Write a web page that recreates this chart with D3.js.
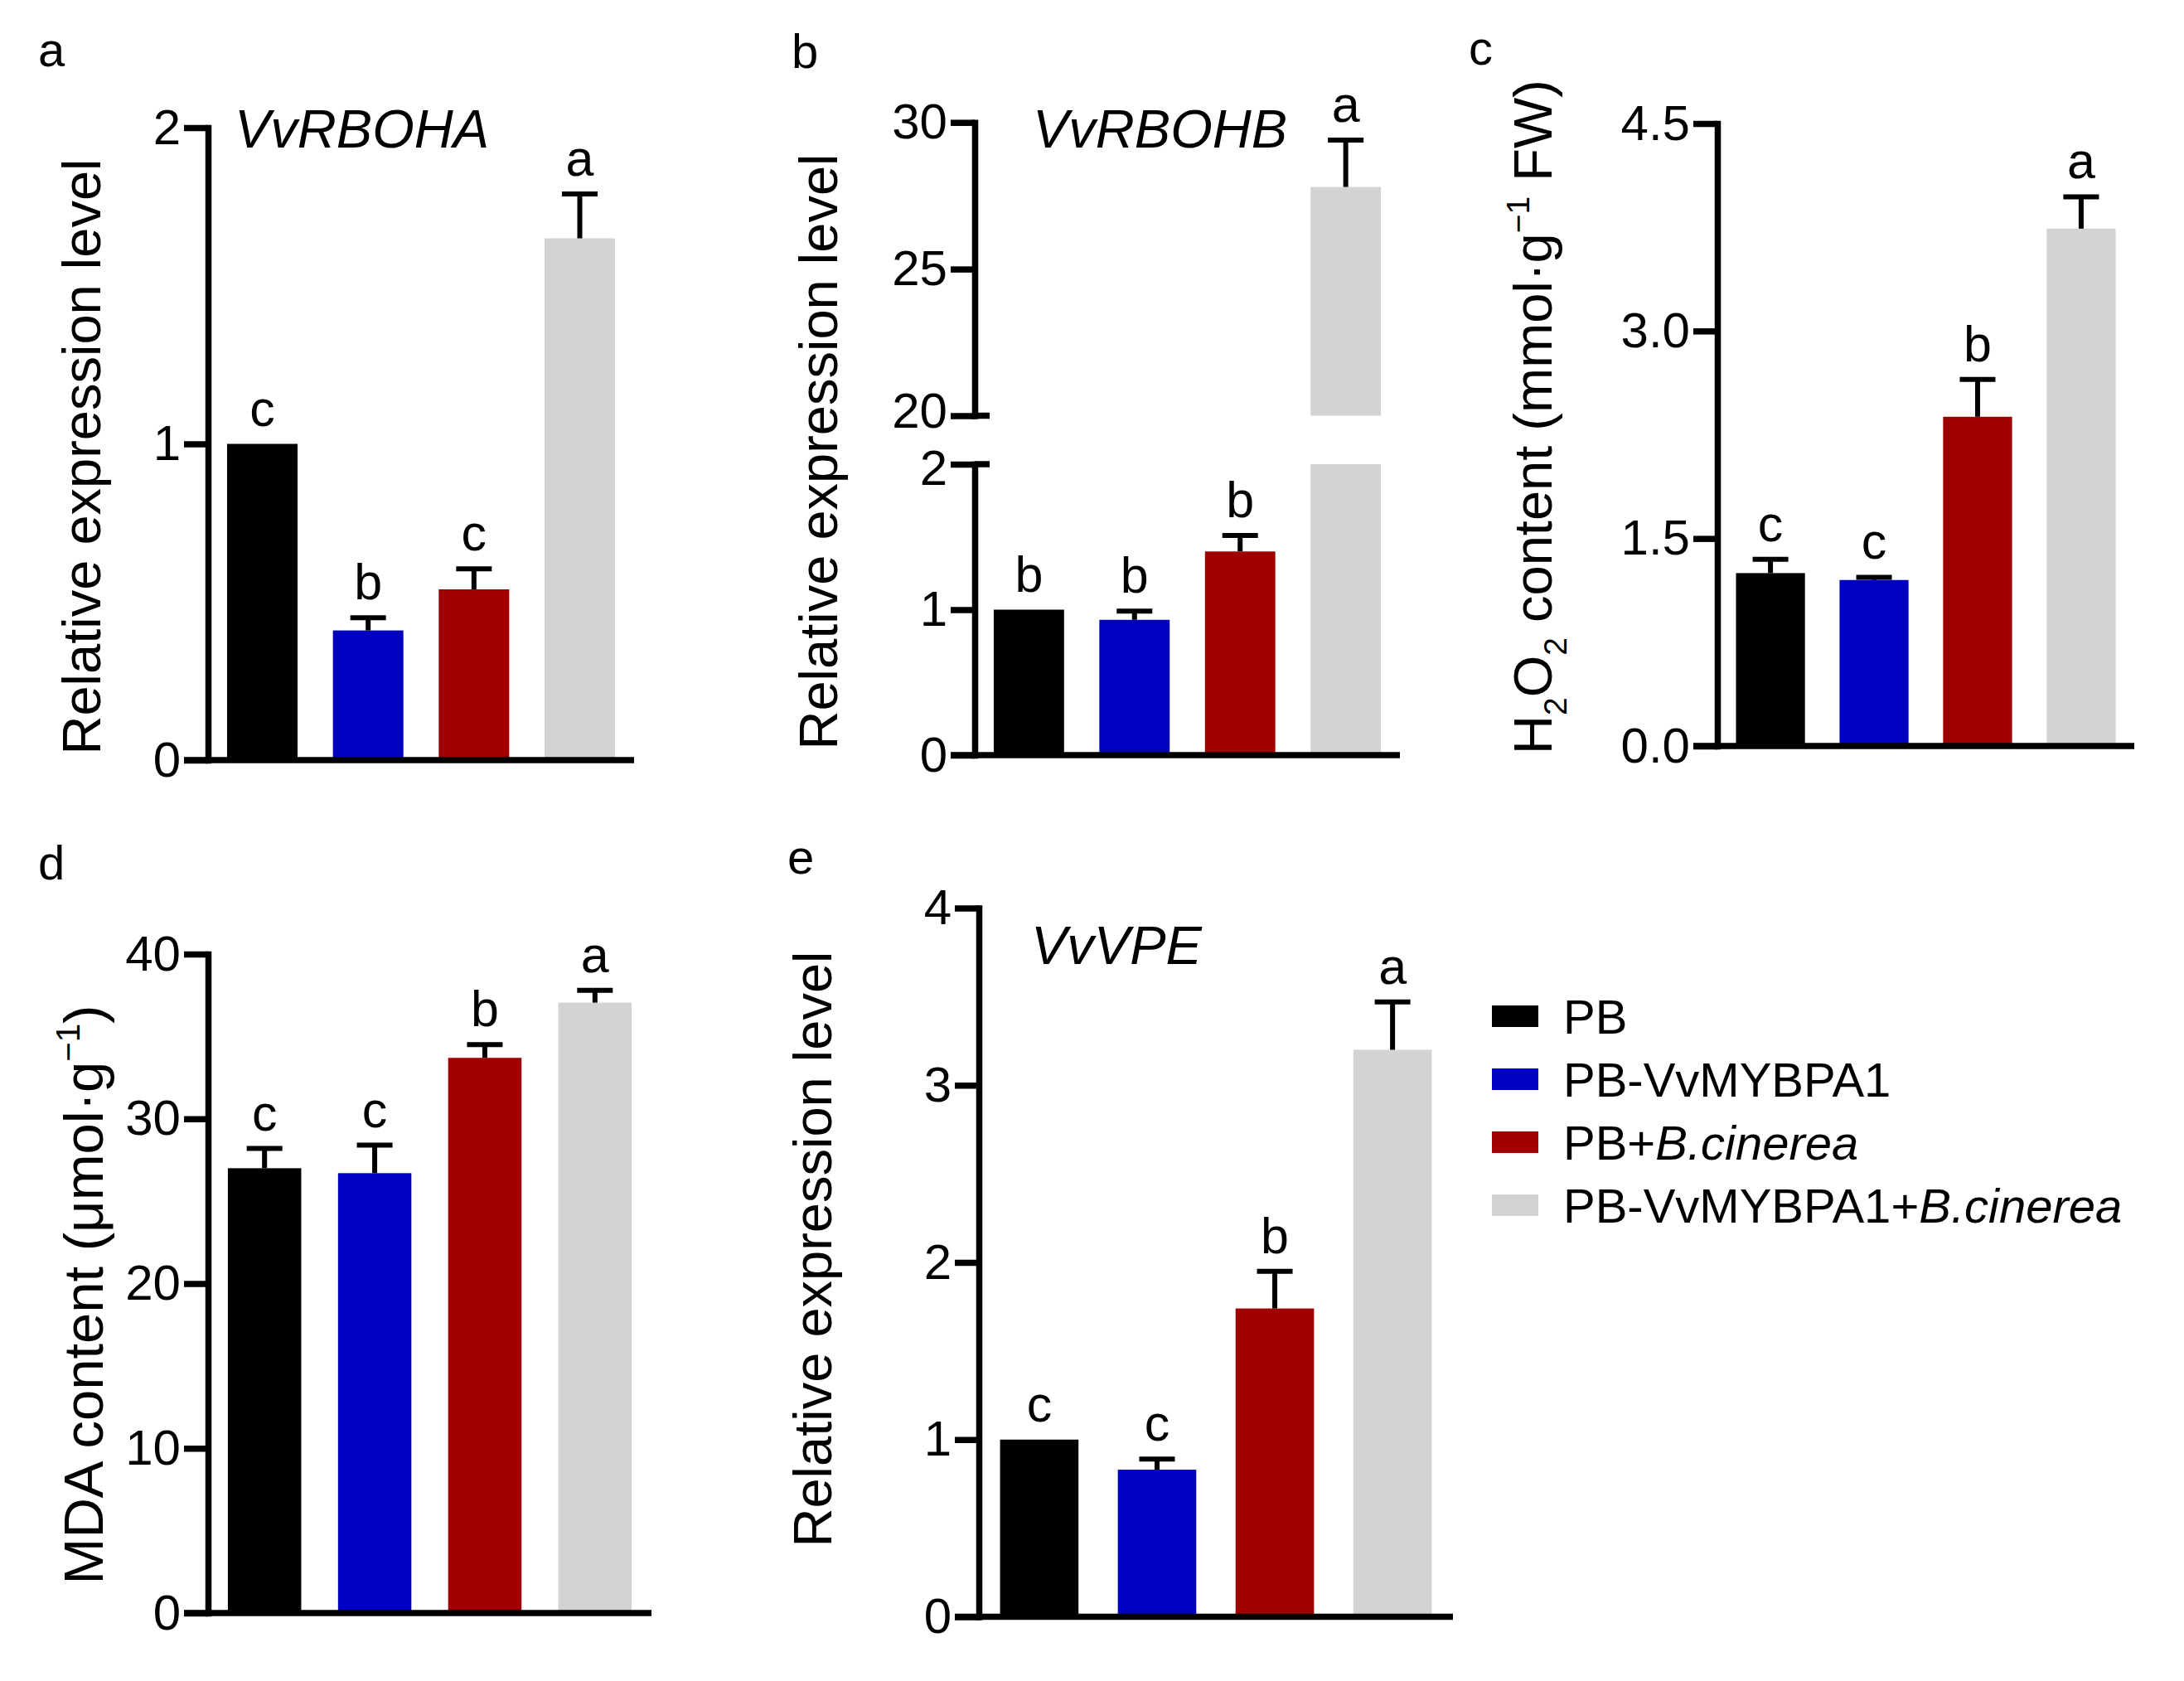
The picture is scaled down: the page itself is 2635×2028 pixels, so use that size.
<!DOCTYPE html>
<html lang="en">
<head>
  <meta charset="UTF-8">
  <title>ROS markers</title>
  <script src="https://cdnjs.cloudflare.com/ajax/libs/d3/7.8.5/d3.min.js"></script>
  <style>
    body { margin: 0; background: #fff; }
    svg { display: block; font-family: "Liberation Sans", Arial, sans-serif; }
    .axis path, .axis line { stroke: #000; stroke-width: 7.5; }
    .axis .domain { stroke-linecap: square; }
    .axis text { font-size: 60px; fill: #000; }
  </style>
</head>
<body>
  <script>
    // groups + colours
    const groups = ["PB", "PB-VvMYBPA1", "PB+B.cinerea", "PB-VvMYBPA1+B.cinerea"];
    const colors = ["#000000", "#0000C0", "#A00000", "#D3D3D3"];

    // a: VvRBOHA
    const rbohaMean = [1.0, 0.41, 0.54, 1.65];
    const rbohaErr = [0, 0.04, 0.065, 0.14];
    const rbohaLetters = ["c", "b", "c", "a"];
    const rbohaTicks = [0, 1, 2];

    // b: VvRBOHB (broken axis)
    const rbohbMean = [1.0, 0.93, 1.40, 27.8];
    const rbohbErr = [0, 0.06, 0.11, 1.6];
    const rbohbLetters = ["b", "b", "b", "a"];
    const rbohbLowTicks = [0, 1, 2];
    const rbohbHighTicks = [20, 25, 30];

    // c: H2O2 content
    const h2o2Mean = [1.25, 1.20, 2.38, 3.74];
    const h2o2Err = [0.10, 0.02, 0.27, 0.23];
    const h2o2Letters = ["c", "c", "b", "a"];
    const h2o2Ticks = [0, 1.5, 3.0, 4.5];

    // d: MDA content
    const mdaMean = [27.0, 26.7, 33.7, 37.05];
    const mdaErr = [1.2, 1.7, 0.8, 0.75];
    const mdaLetters = ["c", "c", "b", "a"];
    const mdaTicks = [0, 10, 20, 30, 40];

    // e: VvVPE
    const vpeMean = [1.0, 0.83, 1.74, 3.20];
    const vpeErr = [0, 0.06, 0.21, 0.27];
    const vpeLetters = ["c", "c", "b", "a"];
    const vpeTicks = [0, 1, 2, 3, 4];

    const width = 2635, height = 2028;
    const tickLen = 29;

    const svg = d3.select("body").append("svg")
      .attr("width", width)
      .attr("height", height);

    //rotated y title, parts can be sub / sup
    function yTitle(x, y, parts, fs) {
      fs = fs || 65;
      const t = svg.append("text")
        .attr("transform", `translate(${x},${y}) rotate(-90)`)
        .attr("text-anchor", "middle")
        .attr("font-size", fs);
      let shift = 0;
      parts.forEach(p => {
        let s = 0;
        if (p.sub) s = 0.28 * fs;
        if (p.sup) s = -0.42 * fs;
        t.append("tspan")
          .attr("dy", s - shift)
          .attr("font-size", (p.sub || p.sup) ? fs * 0.6 : fs)
          .text(p.t);
        shift = s;
      });
    }

    function plainText(x, y, txt, size, italic) {
      svg.append("text")
        .attr("x", x).attr("y", y)
        .attr("font-size", size)
        .attr("font-style", italic ? "italic" : null)
        .text(txt);
    }

    function xScaleFor(axisX, w) {
      return d3.scaleBand()
        .domain(groups)
        .range([axisX, axisX + w])
        .paddingInner(0.334)
        .paddingOuter(0.18);
    }

    function drawBars(x, y, means, errs, letters, y0) {
      const g = svg.append("g");
      groups.forEach((grp, i) => {
        g.append("rect")
          .attr("x", x(grp))
          .attr("width", x.bandwidth())
          .attr("y", y(means[i]))
          .attr("height", y0 - y(means[i]))
          .attr("fill", colors[i]);
        addErrAndLetter(g, x, y, grp, means[i], errs[i], letters[i]);
      });
    }

    function addErrAndLetter(g, x, y, grp, m, e, letter) {
      const cx = x(grp) + x.bandwidth() / 2;
      if (e > 0) {
        g.append("line")
          .attr("x1", cx).attr("x2", cx)
          .attr("y1", y(m)).attr("y2", y(m + e))
          .attr("stroke", "#000").attr("stroke-width", 6);
        g.append("line")
          .attr("x1", cx - 21.5).attr("x2", cx + 21.5)
          .attr("y1", y(m + e)).attr("y2", y(m + e))
          .attr("stroke", "#000").attr("stroke-width", 6);
      }
      g.append("text")
        .attr("x", cx)
        .attr("y", y(m + e) - 22)
        .attr("text-anchor", "middle")
        .attr("font-size", 61)
        .text(letter);
    }

    function leftAxis(axisX, y, ticks, fmt) {
      return svg.append("g")
        .attr("class", "axis")
        .attr("transform", `translate(${axisX},0)`)
        .call(d3.axisLeft(y).tickValues(ticks).tickSize(tickLen).tickSizeOuter(0)
          .tickPadding(4).tickFormat(fmt));
    }

    function baseLine(axisX, w, y0) {
      svg.append("line")
        .attr("x1", axisX - tickLen).attr("x2", axisX + w)
        .attr("y1", y0).attr("y2", y0)
        .attr("stroke", "#000").attr("stroke-width", 7.5);
    }

    function simplePanel(o) {
      const x = xScaleFor(o.axisX, o.w);
      const y = d3.scaleLinear().domain(o.domain).range([o.y0, o.y1]);
      drawBars(x, y, o.means, o.errs, o.letters, o.y0);
      leftAxis(o.axisX, y, o.ticks, o.fmt);
      baseLine(o.axisX, o.w, o.y0);
    }

    // panel a
    simplePanel({ axisX: 251, w: 514, y0: 917, y1: 154, domain: [0, 2],
      means: rbohaMean, errs: rbohaErr, letters: rbohaLetters, ticks: rbohaTicks, fmt: d3.format("d") });
    plainText(283, 178, "VvRBOHA", 65, true);
    yTitle(121, 551, [{ t: "Relative expression level" }]);
    plainText(46, 80, "a", 58);

    // panel b, broken y axis
    (function () {
      const axisX = 1176, w = 513, y0 = 911;
      const x = xScaleFor(axisX, w);
      const yLow = d3.scaleLinear().domain([0, 2]).range([y0, 560]);
      const yHigh = d3.scaleLinear().domain([20, 30]).range([501.5, 147.7]);
      const g = svg.append("g");
      groups.forEach((grp, i) => {
        const m = rbohbMean[i];
        if (m <= 2) {
          g.append("rect")
            .attr("x", x(grp)).attr("width", x.bandwidth())
            .attr("y", yLow(m)).attr("height", y0 - yLow(m))
            .attr("fill", colors[i]);
          addErrAndLetter(g, x, yLow, grp, m, rbohbErr[i], rbohbLetters[i]);
        } else {
          g.append("rect")
            .attr("x", x(grp)).attr("width", x.bandwidth())
            .attr("y", yLow(2)).attr("height", y0 - yLow(2))
            .attr("fill", colors[i]);
          g.append("rect")
            .attr("x", x(grp)).attr("width", x.bandwidth())
            .attr("y", yHigh(m)).attr("height", yHigh(20) - yHigh(m))
            .attr("fill", colors[i]);
          addErrAndLetter(g, x, yHigh, grp, m, rbohbErr[i], rbohbLetters[i]);
        }
      });
      const lowAx = leftAxis(axisX, yLow, rbohbLowTicks, d3.format("d"));
      const highAx = leftAxis(axisX, yHigh, rbohbHighTicks, d3.format("d"));
      // labels either side of the break sit close, nudge them apart a bit
      lowAx.selectAll(".tick text").filter(d => d === 2).attr("y", 5);
      highAx.selectAll(".tick text").filter(d => d === 20).attr("y", -5);
      // break marks stick out to the right
      [yLow(2), yHigh(20)].forEach(yy => {
        svg.append("line")
          .attr("x1", axisX).attr("x2", axisX + 18)
          .attr("y1", yy).attr("y2", yy)
          .attr("stroke", "#000").attr("stroke-width", 7.5);
      });
      baseLine(axisX, w, y0);
    })();
    plainText(1246, 178, "VvRBOHB", 65, true);
    yTitle(1010, 545, [{ t: "Relative expression level" }]);
    plainText(955, 82, "b", 58);

    // panel c
    simplePanel({ axisX: 2072, w: 503, y0: 900, y1: 149, domain: [0, 4.5],
      means: h2o2Mean, errs: h2o2Err, letters: h2o2Letters, ticks: h2o2Ticks, fmt: d3.format(".1f") });
    yTitle(1872, 503, [
      { t: "H" }, { t: "2", sub: true }, { t: "O" }, { t: "2", sub: true },
      { t: " content (mmol·g" }, { t: "−1", sup: true }, { t: " FW)" }
    ]);
    plainText(1772, 78, "c", 58);

    // panel d
    simplePanel({ axisX: 251, w: 535, y0: 1946, y1: 1151, domain: [0, 40],
      means: mdaMean, errs: mdaErr, letters: mdaLetters, ticks: mdaTicks, fmt: d3.format("d") });
    yTitle(124, 1562, [{ t: "MDA content (μmol·g" }, { t: "−1", sup: true }, { t: ")" }], 67);
    plainText(46, 1061, "d", 58);

    // panel e
    simplePanel({ axisX: 1181, w: 572, y0: 1950.5, y1: 1095.5, domain: [0, 4],
      means: vpeMean, errs: vpeErr, letters: vpeLetters, ticks: vpeTicks, fmt: d3.format("d") });
    plainText(1244, 1163, "VvVPE", 65, true);
    yTitle(1003, 1507, [{ t: "Relative expression level" }]);
    plainText(950, 1054, "e", 58);

    // legend
    const legend = svg.append("g").attr("transform", "translate(1800,1213)");
    groups.forEach((grp, i) => {
      const row = legend.append("g").attr("transform", `translate(0,${i * 76})`);
      row.append("rect").attr("width", 56).attr("height", 26).attr("fill", colors[i]);
      const t = row.append("text").attr("x", 86).attr("y", 13).attr("dy", "0.36em")
        .attr("font-size", 58);
      const k = grp.indexOf("+");
      if (k < 0) {
        t.text(grp);
      } else {
        t.append("tspan").text(grp.slice(0, k + 1));
        t.append("tspan").attr("font-style", "italic").text(grp.slice(k + 1));
      }
    });
  </script>
</body>
</html>
